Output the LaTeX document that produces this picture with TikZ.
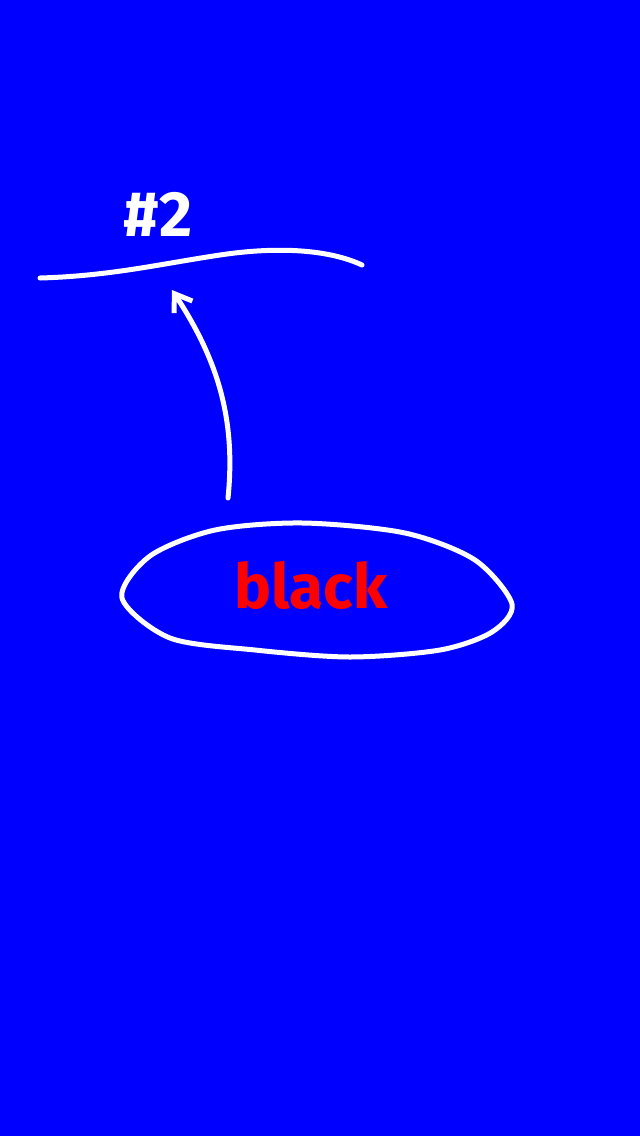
\documentclass[tikz,border=0pt]{standalone}
\usepackage{fontspec}
\setmainfont{Fira Sans}
\usepackage{xcolor}
\usepackage{tikz}
\usetikzlibrary{arrows.meta, positioning}

\begin{document}
\begin{tikzpicture}[
    x=1pt, y=-1pt,
    chalk/.style={draw=white, line width=5pt, line cap=round, line join=round},
    label/.style={inner sep=0pt, font=\bfseries\fontsize{64}{70}\selectfont},
    pointer/.style={chalk, -{Straight Barb[length=16pt, width=22pt, line width=5pt]}}
]
\fill[blue] (0,0) rectangle (640,1136);
\useasboundingbox (0,0) rectangle (640,1136);
\node[label, text=white] (num) at (158,214) {\#2};
\draw[chalk] (40,278) .. controls (110,276) and (160,264) .. (220,255)
    .. controls (280,246) and (330,250) .. (362,265);
\draw[chalk] plot[smooth cycle] coordinates {(122,598) (150,556) (215,530) (303,523) (405,533) (475,560) (512,604) (492,632) (440,650) (350,657) (255,650) (170,638)};
\node[label, text=red, font=\bfseries\fontsize{62}{70}\selectfont] (word) at (311,585) {black};
\coordinate (tail) at (228,498);
\coordinate (tip) at (172,290);
\draw[pointer] (tail) .. controls (236,420) and (218,360) .. (tip);
\end{tikzpicture}
\end{document}
